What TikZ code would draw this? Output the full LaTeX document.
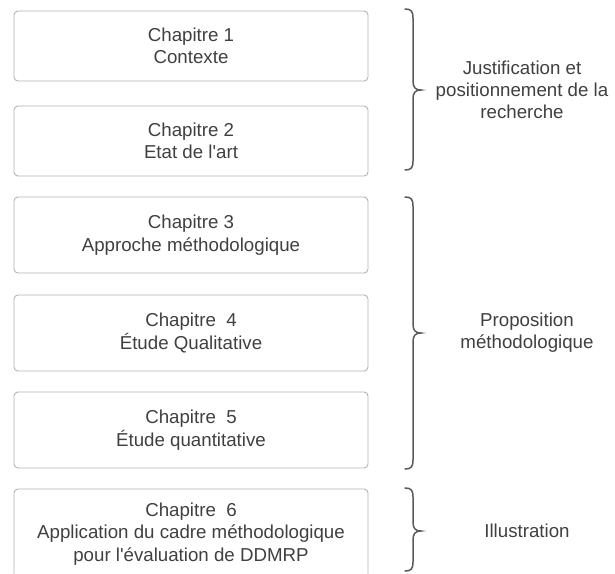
\documentclass[tikz,border=0pt]{standalone}
\usepackage{fontspec}
\setmainfont{Liberation Sans}
\definecolor{boxgray}{HTML}{B4B4B4}
\definecolor{txtgray}{HTML}{404040}
\definecolor{bracegray}{HTML}{5A5A5A}
% curly brace: #1 top y, #2 tip y, #3 bottom y
\newcommand\curlybrace[3]{%
  \draw[bracestyle] (405,#1) .. controls (411,#1) and (413,#1+2) .. (413,#1+9)
    -- (413,#2-9) .. controls (413,#2-3) and (415,#2) .. (421,#2)
    .. controls (415,#2) and (413,#2+3) .. (413,#2+9)
    -- (413,#3-9) .. controls (413,#3-2) and (411,#3) .. (405,#3);}
\begin{document}
\begin{tikzpicture}[x=1pt,y=-1pt,
  chapbox/.style={draw=boxgray, line width=0.9pt, rounded corners=4pt,
    minimum width=354pt, inner sep=0pt, align=center, text=txtgray,
    font=\fontsize{18.7}{22.5}\selectfont},
  partlabel/.style={align=center, text=txtgray, inner sep=0pt,
    font=\fontsize{18.7}{22}\selectfont},
  bracestyle/.style={draw=bracegray, line width=1.5pt, line cap=round}]
\useasboundingbox (0,0) rectangle (615,573);
\clip (0,0) rectangle (615,573);
\fill[white] (0,0) rectangle (615,573);

% chapter boxes
\node[chapbox, minimum height=70pt] (c1) at (191,46) {Chapitre 1\\Contexte};
\node[chapbox, minimum height=70pt] (c2) at (191,141) {Chapitre 2\\Etat de l\textquotesingle art};
\node[chapbox, minimum height=76pt] (c3) at (191,235) {Chapitre 3\\Approche méthodologique};
\node[chapbox, minimum height=76pt] (c4) at (191,333) {Chapitre\ \ 4\\Étude Qualitative};
\node[chapbox, minimum height=76pt] (c5) at (191,430) {Chapitre\ \ 5\\Étude quantitative};
\node[chapbox, minimum height=90pt] (c6) at (191,534) {Chapitre\ \ 6\\Application du cadre méthodologique\\pour l\textquotesingle évaluation de DDMRP};

% grouping braces
\curlybrace{9}{90}{170}
\curlybrace{197}{333}{469}
\curlybrace{488}{531}{571}

% part labels
\node[partlabel] (p1) at (522,90) {Justification et\\positionnement de la\\recherche};
\node[partlabel] (p2) at (527,333) {Proposition\\méthodologique};
\node[partlabel] (p3) at (527,531) {Illustration};
\end{tikzpicture}
\end{document}
